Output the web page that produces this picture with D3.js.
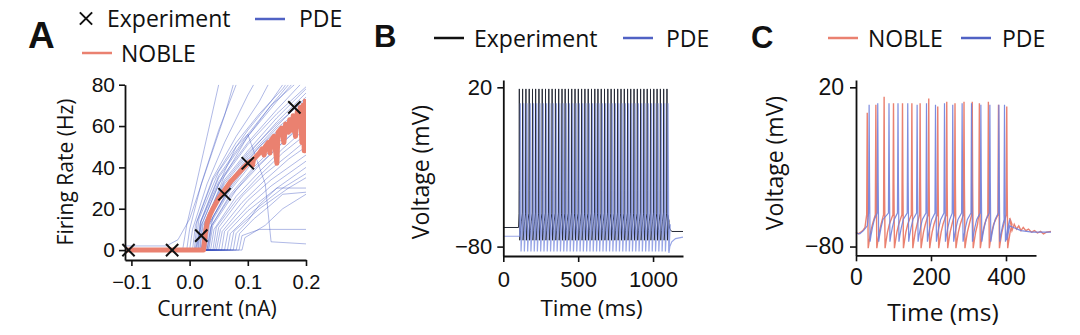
<!DOCTYPE html>
<html>
<head>
<meta charset="utf-8">
<script src="https://cdn.jsdelivr.net/npm/d3@7"></script>
<style>
  body { margin: 0; background: #fff; }
  .tick text { font-family: "Liberation Sans", Arial, sans-serif; fill: #111; }
  .lab { font-family: "Open Sans", sans-serif; fill: #111; }
  .letter { font-family: "Liberation Sans", Arial, sans-serif; font-weight: bold; fill: #111; }
</style>
</head>
<body>
<svg id="fig" width="1080" height="335"></svg>
<script>
// colours
var pdeColor = "#5062c4";
var nobleColor = "#ea8170";

// ---- panel A : firing rate vs current ----
var expCurrent = [-0.105, -0.03, 0.02, 0.06, 0.1, 0.18];
var expRate = [0, 0, 7, 27, 42, 69];

var nobleFI = [[-0.111,0],[0.024,0],[0.027,8],[0.03,13],[0.035,17],[0.04,20],[0.05,25],[0.06,29],
  [0.07,33],[0.08,36],[0.09,39],[0.1,42],[0.105,43],[0.108,41],[0.11,44],[0.12,47],[0.125,49],
  [0.128,46],[0.13,50],[0.135,52],[0.138,47],[0.14,53],[0.145,55],[0.15,42],[0.152,57],[0.158,59],
  [0.162,52],[0.165,61],[0.17,57],[0.172,63],[0.176,58],[0.178,65],[0.182,55],[0.185,67],[0.188,60],
  [0.19,69],[0.193,52],[0.195,70],[0.197,48],[0.199,72],[0.2,73]];

var pdeFI = [
  [[-0.111,2],[-0.04,2],[-0.02,5],[0.0,15],[0.03,40],[0.06,65],[0.075,80]],
  [[-0.111,0],[-0.012,0],[-0.005,12],[0.01,30],[0.03,55],[0.05,80]],
  [[-0.111,0],[-0.005,0],[0.0,10],[0.02,32],[0.05,58],[0.08,80]],
  [[-0.111,0],[0.0,0],[0.005,10],[0.03,32],[0.06,52],[0.1,75],[0.11,80]],
  [[-0.111,0],[0.005,0],[0.01,12],[0.04,35],[0.08,55],[0.12,72],[0.135,80]],
  [[-0.111,0],[0.008,0],[0.013,14],[0.04,34],[0.08,52],[0.12,66],[0.16,78],[0.165,80]],
  [[-0.111,0],[0.01,0],[0.016,15],[0.05,38],[0.1,58],[0.14,72],[0.16,80]],
  [[-0.111,0],[0.012,0],[0.018,13],[0.05,35],[0.1,55],[0.15,72],[0.175,80]],
  [[-0.111,0],[0.014,0],[0.019,14],[0.05,36],[0.1,56],[0.14,70],[0.18,80]],
  [[-0.111,0],[0.015,0],[0.02,14],[0.05,33],[0.1,52],[0.15,68],[0.19,80]],
  [[-0.111,0],[0.017,0],[0.022,13],[0.05,32],[0.1,51],[0.15,66],[0.2,79]],
  [[-0.111,0],[0.018,0],[0.023,12],[0.06,34],[0.1,48],[0.15,64],[0.2,78]],
  [[-0.111,0],[0.02,0],[0.026,13],[0.06,32],[0.1,46],[0.15,62],[0.2,76]],
  [[-0.111,0],[0.021,0],[0.027,14],[0.06,33],[0.1,47],[0.15,61],[0.2,73]],
  [[-0.111,0],[0.022,0],[0.028,12],[0.06,30],[0.1,45],[0.15,60],[0.2,74]],
  [[-0.111,0],[0.024,0],[0.029,12],[0.06,29],[0.1,44],[0.15,59],[0.2,70]],
  [[-0.111,0],[0.025,0],[0.03,11],[0.07,31],[0.1,42],[0.15,57],[0.2,71]],
  [[-0.111,0],[0.027,0],[0.032,12],[0.07,30],[0.1,41],[0.15,55],[0.2,67]],
  [[-0.111,0],[0.028,0],[0.034,12],[0.07,29],[0.11,43],[0.16,57],[0.2,68]],
  [[-0.111,0],[0.03,0],[0.036,11],[0.07,27],[0.11,40],[0.16,54],[0.2,65]],
  [[-0.111,0],[0.032,0],[0.038,12],[0.07,26],[0.11,39],[0.16,52],[0.2,63]],
  [[-0.111,0],[0.033,0],[0.04,12],[0.08,29],[0.12,41],[0.16,52],[0.2,62]],
  [[-0.111,0],[0.036,0],[0.042,10],[0.08,26],[0.12,38],[0.16,49],[0.2,59]],
  [[-0.111,0],[0.04,0],[0.046,11],[0.08,24],[0.12,36],[0.16,47],[0.2,56]],
  [[-0.111,0],[0.043,0],[0.05,11],[0.09,26],[0.13,37],[0.17,46],[0.2,53]],
  [[-0.111,0],[0.046,0],[0.053,10],[0.09,23],[0.13,34],[0.17,44],[0.2,50]],
  [[-0.111,0],[0.05,0],[0.056,9],[0.1,24],[0.14,34],[0.2,46]],
  [[-0.111,0],[0.055,0],[0.06,9],[0.1,21],[0.14,31],[0.2,43]],
  [[-0.111,0],[0.06,0],[0.066,9],[0.1,19],[0.15,30],[0.2,40]],
  [[-0.111,0],[0.065,0],[0.07,8],[0.11,19],[0.16,30],[0.2,37]],
  [[-0.111,0],[0.07,0],[0.076,9],[0.12,20],[0.17,30],[0.2,35]],
  [[-0.111,0],[0.075,0],[0.08,8],[0.1,14],[0.12,22],[0.15,30],[0.2,30]],
  [[-0.111,0],[0.08,0],[0.086,8],[0.11,15],[0.14,22],[0.16,27],[0.2,28]],
  [[-0.111,0],[0.085,0],[0.09,7],[0.12,10],[0.2,10]],
  [[-0.111,0],[0.09,0],[0.095,6],[0.13,12],[0.16,20],[0.2,27]],
  [[-0.111,0],[0.01,0],[0.02,12],[0.06,38],[0.08,50],[0.1,56],[0.13,32],[0.14,4],[0.2,3]],
  [[-0.111,0],[0.02,0],[0.03,15],[0.06,36],[0.1,55],[0.14,70],[0.17,80]],
  [[-0.111,0],[0.03,0],[0.04,16],[0.08,36],[0.12,50],[0.16,60],[0.2,68]]
];
var fiCurrentTicks = [-0.1, 0.0, 0.1, 0.2];
var fiRateTicks = [0, 20, 40, 60, 80];

// ---- panel B : experiment vs PDE voltage trace ----
var expSpikeTimes = [107,129,151,173,195,216,238,260,282,304,326,348,370,392,413,435,457,479,501,523,
  545,567,589,611,632,654,676,698,720,742,764,786,808,830,851,873,895,917,939,961,983,1005,1027,1049,1071,1093];
var pdeSpikeTimesB = [114,136,158,180,202,223,245,267,289,311,333,355,377,399,420,442,464,486,508,530,
  552,574,596,618,639,661,683,705,727,749,771,793,815,837,858,880,902,924,946,968,990,1012,1034,1056,1078,1100];
// spike waveform: [ms from peak, mV]
var expSpikeShape = [[-2,-59],[0,19],[1.5,-45],[3,-76],[8,-70],[14,-64]];
var pdeSpikeShapeB = [[-3,-58],[0,10],[3,-40],[4.5,-83],[9,-74],[15,-66]];
var expRestB = [[0,-68],[102,-68]];
var expTailB = [[1098,-60],[1104,-65],[1112,-69],[1125,-70.5],[1200,-70.5]];
var pdeRestB = [[0,-73.5],[109,-73.5]];
var pdeTailB = [[1106,-84],[1112,-80],[1125,-77],[1150,-75],[1200,-74]];
var timeTicksB = [0, 500, 1000];
var voltTicks = [-80, 20];

// ---- panel C : NOBLE vs PDE voltage trace ----
var nobleSpikeTimes = [30,53,75,100,124,149,171,194,218,242,264,288,310,329,353,380,402];
var nobleSpikePeaks = [4,9,14,10,10,10,10,13,8,11,10,11,11,10,11,9,8];
var pdeSpikeTimesC = [35,58,88,112,138,163,188,212,236,258,283,308,333,357,381,396];
var pdeSpikePeaks = [9,10,10,10,10,9,10,9,10,9,10,10,9,9,9,9];
var nobleSpikeShape = [[-1.5,-60],[0,0],[1,-40],[2.5,-81],[5,-77],[9,-71],[14,-66]];
var pdeSpikeShapeC = [[-1.5,-59],[0,0],[1.2,-40],[2.5,-77],[5,-73],[9,-68],[14,-63]];
var nobleRestC = [[0,-71],[6,-72],[12,-71],[18,-70],[24,-68]];
var nobleTailC = [[410,-62],[416,-70],[422,-66],[428,-69],[434,-67],[440,-70],[446,-68],[453,-70],
  [460,-69],[468,-71],[476,-70],[484,-71.5],[492,-70.5],[500,-72],[508,-71],[520,-70.5]];
var pdeRestC = [[0,-71.5],[10,-72],[20,-70],[30,-67]];
var pdeTailC = [[402,-76],[410,-67],[420,-68],[440,-70],[470,-71],[520,-71]];
var timeTicksC = [0, 200, 400];

// build a voltage trace from rest, spike times and tail
function buildTrace(rest, times, peaks, shape, tail) {
  var pts = rest.slice();
  times.forEach(function(t, i) {
    shape.forEach(function(s) {
      var v = (s[0] === 0 && peaks) ? peaks[i] : s[1];
      pts.push([t + s[0], v]);
    });
  });
  return pts.concat(tail);
}

var svg = d3.select("#fig");

function styleAxis(g, fontSize) {
  g.select(".domain").attr("stroke", "#111").attr("stroke-width", 1.8);
  g.selectAll(".tick line").attr("stroke", "#111").attr("stroke-width", 1.6);
  g.selectAll(".tick text").style("font-size", fontSize + "px");
}

// ===== A =====
var xA = d3.scaleLinear().domain([-0.111, 0.2]).range([125, 306]);
var yA = d3.scaleLinear().domain([-4.8, 80]).range([260, 84.7]);

svg.append("clipPath").attr("id", "clipA").append("rect")
  .attr("x", 125).attr("y", 84.7).attr("width", 181).attr("height", 175.3);

var lineA = d3.line().x(function(d) { return xA(d[0]); }).y(function(d) { return yA(d[1]); });

var gA = svg.append("g").attr("clip-path", "url(#clipA)");
gA.selectAll("path.pde").data(pdeFI).enter().append("path")
  .attr("class", "pde")
  .attr("d", lineA)
  .attr("fill", "none")
  .attr("stroke", "#3a4fc0")
  .attr("stroke-opacity", 0.4)
  .attr("stroke-width", 1);

gA.append("path")
  .attr("d", lineA(nobleFI))
  .attr("fill", "none")
  .attr("stroke", nobleColor)
  .attr("stroke-width", 5)
  .attr("stroke-linejoin", "round");

var cross = d3.symbol().type(d3.symbolX).size(100);
svg.selectAll("path.exp").data(expCurrent).enter().append("path")
  .attr("class", "exp")
  .attr("d", cross)
  .attr("transform", function(d, i) { return "translate(" + xA(d) + "," + yA(expRate[i]) + ")"; })
  .attr("fill", "none")
  .attr("stroke", "#111")
  .attr("stroke-width", 2);

var axA = svg.append("g").attr("transform", "translate(0,260)")
  .call(d3.axisBottom(xA).tickValues(fiCurrentTicks).tickFormat(d3.format(".1f"))
    .tickSize(6).tickSizeOuter(0).tickPadding(9));
styleAxis(axA, 20);
var ayA = svg.append("g").attr("transform", "translate(125,0)")
  .call(d3.axisLeft(yA).tickValues(fiRateTicks).tickSize(6).tickSizeOuter(0).tickPadding(4));
styleAxis(ayA, 21);

svg.append("text").attr("class", "lab").attr("x", 217).attr("y", 316)
  .attr("text-anchor", "middle").style("font-size", "21px").text("Current (nA)");
svg.append("text").attr("class", "lab")
  .attr("transform", "translate(73,172) rotate(-90)")
  .attr("text-anchor", "middle").style("font-size", "21px").text("Firing Rate (Hz)");

// ===== B =====
var xB = d3.scaleLinear().domain([0, 1200]).range([503.3, 683]);
var yB = d3.scaleLinear().domain([-85.9, 24.6]).range([256, 80]);
var lineB = d3.line().x(function(d) { return xB(d[0]); }).y(function(d) { return yB(d[1]); });

svg.append("path")
  .attr("d", lineB(buildTrace(expRestB, expSpikeTimes, null, expSpikeShape, expTailB)))
  .attr("fill", "none").attr("stroke", "#262a36").attr("stroke-width", 1);
svg.append("path")
  .attr("d", lineB(buildTrace(pdeRestB, pdeSpikeTimesB, null, pdeSpikeShapeB, pdeTailB)))
  .attr("fill", "none").attr("stroke", "#7d8ee0").attr("stroke-opacity", 0.8).attr("stroke-width", 1.2);

var axB = svg.append("g").attr("transform", "translate(0,256)")
  .call(d3.axisBottom(xB).tickValues(timeTicksB).tickFormat(d3.format("d"))
    .tickSize(6).tickSizeOuter(0).tickPadding(9));
styleAxis(axB, 22);
var ayB = svg.append("g").attr("transform", "translate(503.3,0)")
  .call(d3.axisLeft(yB).tickValues(voltTicks).tickSize(6).tickSizeOuter(0).tickPadding(5));
styleAxis(ayB, 22);

svg.append("text").attr("class", "lab").attr("x", 591.5).attr("y", 316)
  .attr("text-anchor", "middle").style("font-size", "22.5px").text("Time (ms)");
svg.append("text").attr("class", "lab")
  .attr("transform", "translate(429,172) rotate(-90)")
  .attr("text-anchor", "middle").style("font-size", "23px").text("Voltage (mV)");

// ===== C =====
var xC = d3.scaleLinear().domain([0, 520]).range([856, 1051]);
var yC = d3.scaleLinear().domain([-85.5, 24.6]).range([255.3, 80]);
var lineC = d3.line().x(function(d) { return xC(d[0]); }).y(function(d) { return yC(d[1]); });

svg.append("path")
  .attr("d", lineC(buildTrace(nobleRestC, nobleSpikeTimes, nobleSpikePeaks, nobleSpikeShape, nobleTailC)))
  .attr("fill", "none").attr("stroke", nobleColor).attr("stroke-width", 1.4);
svg.append("path")
  .attr("d", lineC(buildTrace(pdeRestC, pdeSpikeTimesC, pdeSpikePeaks, pdeSpikeShapeC, pdeTailC)))
  .attr("fill", "none").attr("stroke", "#6f80dc").attr("stroke-opacity", 0.9).attr("stroke-width", 1.2);

var xCaxis = xC.copy().domain([0, 480]).range([856, xC(480)]);
var axC = svg.append("g").attr("transform", "translate(0,255.3)")
  .call(d3.axisBottom(xCaxis).tickValues(timeTicksC).tickSize(6).tickSizeOuter(0).tickPadding(7));
styleAxis(axC, 23);
var ayC = svg.append("g").attr("transform", "translate(856,0)")
  .call(d3.axisLeft(yC).tickValues(voltTicks).tickSize(6).tickSizeOuter(0).tickPadding(6));
styleAxis(ayC, 23);

svg.append("text").attr("class", "lab").attr("x", 943).attr("y", 321)
  .attr("text-anchor", "middle").style("font-size", "24.5px").text("Time (ms)");
svg.append("text").attr("class", "lab")
  .attr("transform", "translate(783,163) rotate(-90)")
  .attr("text-anchor", "middle").style("font-size", "23px").text("Voltage (mV)");

// ===== panel letters =====
svg.append("text").attr("class", "letter").attr("x", 28).attr("y", 47.5).style("font-size", "37px").text("A");
svg.append("text").attr("class", "letter").attr("x", 374).attr("y", 47).style("font-size", "31px").text("B");
svg.append("text").attr("class", "letter").attr("x", 751).attr("y", 47.5).style("font-size", "31px").text("C");

// ===== legends =====
function legLine(x, y, color, lw) {
  svg.append("line").attr("x1", x).attr("x2", x + 30).attr("y1", y).attr("y2", y)
    .attr("stroke", color).attr("stroke-width", lw);
}
function legText(x, y, s) {
  svg.append("text").attr("class", "lab").attr("x", x).attr("y", y).style("font-size", "23px").text(s);
}
// A
svg.append("path").attr("d", d3.symbol().type(d3.symbolX).size(100)())
  .attr("transform", "translate(86,18.5)").attr("fill", "none").attr("stroke", "#111").attr("stroke-width", 2);
legText(107, 27, "Experiment");
legLine(255, 19, pdeColor, 2.5);
legText(299, 27, "PDE");
legLine(82, 53, nobleColor, 2.5);
legText(121, 62, "NOBLE");
// B
legLine(434, 38, "#111", 2.5);
legText(474, 46.5, "Experiment");
legLine(623, 38, pdeColor, 2.5);
legText(666, 46.5, "PDE");
// C
legLine(828, 38, nobleColor, 2.5);
legText(868, 46.5, "NOBLE");
legLine(961, 38, pdeColor, 2.5);
legText(1002, 46.5, "PDE");
</script>
</body>
</html>
